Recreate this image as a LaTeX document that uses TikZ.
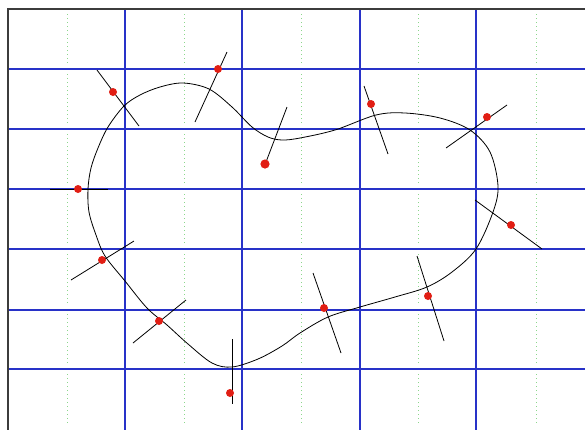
\documentclass[tikz,border=0pt]{standalone}
\begin{document}
\begin{tikzpicture}[x=1pt,y=-1pt,
  bluegrid/.style={draw={rgb,255:red,40;green,50;blue,200},line width=1.2pt},
  greendot/.style={draw={rgb,255:red,140;green,215;blue,140},line width=0.8pt,dash pattern=on 1pt off 3pt},
  frameline/.style={draw={rgb,255:red,60;green,60;blue,60},line width=1.5pt},
  curveline/.style={draw=black,line width=0.8pt},
  normalline/.style={draw=black,line width=0.8pt},
  reddot/.style={fill={rgb,255:red,225;green,30;blue,20}}]
\useasboundingbox (0,0) rectangle (585,429);
\fill[white] (0,0) rectangle (585,429);
\begin{scope}
\clip (0,0) rectangle (585,429);
% green dotted lines
\foreach \x in {67,184,301,418,536}{
  \foreach \y in {9,69,129,189,249,309,369}{
    \draw[greendot] (\x,\y+5) -- (\x,\y+56);
  }
}
% blue grid
\foreach \y in {69,129,189,249,310,369}{\draw[bluegrid] (8,\y) -- (590,\y);}
\foreach \x in {125,242,360,476}{\draw[bluegrid] (\x,9) -- (\x,435);}
% frame
\draw[frameline] (8,440) -- (8,9) -- (600,9);
% curve
\draw[curveline] plot[smooth cycle,tension=0.55] coordinates {
 (88,189) (91,168) (98,148) (108,127) (124,106) (140,95) (160,87) (183,83) (209,89) (232,107)
 (252,127) (268,137) (282,140) (300,138) (335,130) (376,115) (405,113)
 (440,118) (470,130) (490,152) (498,186) (493,212) (476,249) (452,272)
 (427,287) (395,297) (360,307) (328,317) (300,333) (282,346) (258,359)
 (232,367) (212,363) (188,344) (167,325) (147,308) (125,281) (105,256)
 (96,235) (89,212)};
% normals
\draw[normalline] (97,70) -- (139,126);
\draw[normalline] (227,52) -- (195,122);
\draw[normalline] (287,107) -- (266,162);
\draw[normalline] (50,189) -- (108,189);
\draw[normalline] (364,86) -- (388,154);
\draw[normalline] (446,148) -- (507,105);
\draw[normalline] (475,200) -- (542,249);
\draw[normalline] (134,241) -- (71,280);
\draw[normalline] (186,300) -- (133,343);
\draw[normalline] (232,339) -- (232,404);
\draw[normalline] (313,273) -- (341,353);
\draw[normalline] (417,256) -- (444,341);
% red dots
\foreach \p in {(113,92),(218,69),(78,189),(371,104),(487,117),(511,225),(102,260),(159,321),(230,393),(324,308),(428,296)}{
  \fill[reddot] \p circle (4);
}
\fill[reddot] (265,164) circle (4.6);
\end{scope}
\end{tikzpicture}
\end{document}
